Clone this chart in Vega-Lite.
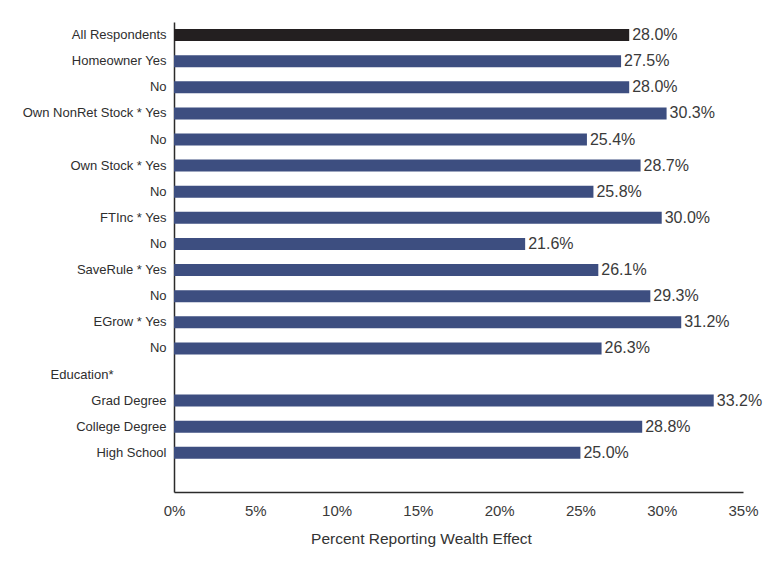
{
  "$schema": "https://vega.github.io/schema/vega-lite/v6.json",
  "width": 569,
  "height": 470,
  "autosize": "none",
  "padding": {"left": 174, "top": 22, "right": 32, "bottom": 79},
  "background": "white",
  "config": {
    "view": {"stroke": null},
    "font": "Liberation Sans"
  },
  "data": {
    "values": [
      {"row": "All Respondents", "value": 28.0},
      {"row": "Homeowner Yes", "value": 27.5},
      {"row": "No|1", "value": 28.0},
      {"row": "Own NonRet Stock * Yes", "value": 30.3},
      {"row": "No|2", "value": 25.4},
      {"row": "Own Stock * Yes", "value": 28.7},
      {"row": "No|3", "value": 25.8},
      {"row": "FTInc * Yes", "value": 30.0},
      {"row": "No|4", "value": 21.6},
      {"row": "SaveRule * Yes", "value": 26.1},
      {"row": "No|5", "value": 29.3},
      {"row": "EGrow * Yes", "value": 31.2},
      {"row": "No|6", "value": 26.3},
      {"row": "Grad Degree", "value": 33.2},
      {"row": "College Degree", "value": 28.8},
      {"row": "High School", "value": 25.0}
    ]
  },
  "transform": [
    {"calculate": "format(datum.value, '.1f') + '%'", "as": "valueLabel"}
  ],
  "encoding": {
    "y": {
      "field": "row",
      "type": "nominal",
      "sort": null,
      "scale": {
        "domain": ["All Respondents", "Homeowner Yes", "No|1", "Own NonRet Stock * Yes", "No|2", "Own Stock * Yes", "No|3", "FTInc * Yes", "No|4", "SaveRule * Yes", "No|5", "EGrow * Yes", "No|6", "Education*", "Grad Degree", "College Degree", "High School", "|end"],
        "paddingInner": 0,
        "paddingOuter": 0
      },
      "axis": {
        "title": null,
        "ticks": false,
        "domain": true,
        "domainColor": "#2b2b2b",
        "domainWidth": 1.5,
        "labelExpr": "split(datum.value, '|')[0]",
        "labelFont": "Liberation Sans",
        "labelFontSize": 13,
        "labelColor": "#2e2e2e",
        "labelPadding": {"condition": {"test": "datum.value === 'Education*'", "value": 61}, "value": 8}
      }
    },
    "x": {
      "field": "value",
      "type": "quantitative",
      "scale": {"domain": [0, 35], "nice": false},
      "axis": {
        "title": "Percent Reporting Wealth Effect",
        "values": [0, 5, 10, 15, 20, 25, 30, 35],
        "labelExpr": "datum.value + '%'",
        "grid": false,
        "ticks": false,
        "domainColor": "#2b2b2b",
        "domainWidth": 1.5,
        "labelFont": "Liberation Sans",
        "labelFontSize": 15,
        "labelColor": "#3a3a3a",
        "labelPadding": 11,
        "labelFlush": false,
        "titleFont": "Liberation Sans",
        "titleFontSize": 15.5,
        "titleFontWeight": "normal",
        "titleColor": "#333333",
        "titlePadding": 13,
        "titleX": 247,
        "titleAnchor": "middle"
      }
    }
  },
  "layer": [
    {
      "mark": {"type": "bar", "size": 12},
      "encoding": {
        "color": {
          "condition": {"test": "datum.row === 'All Respondents'", "value": "#231f20"},
          "value": "#3d4e80"
        }
      }
    },
    {
      "mark": {"type": "text", "align": "left", "baseline": "middle", "dx": 3, "font": "Liberation Sans", "fontSize": 16, "color": "#3a3a3a"},
      "encoding": {
        "text": {"field": "valueLabel", "type": "nominal"}
      }
    }
  ]
}
